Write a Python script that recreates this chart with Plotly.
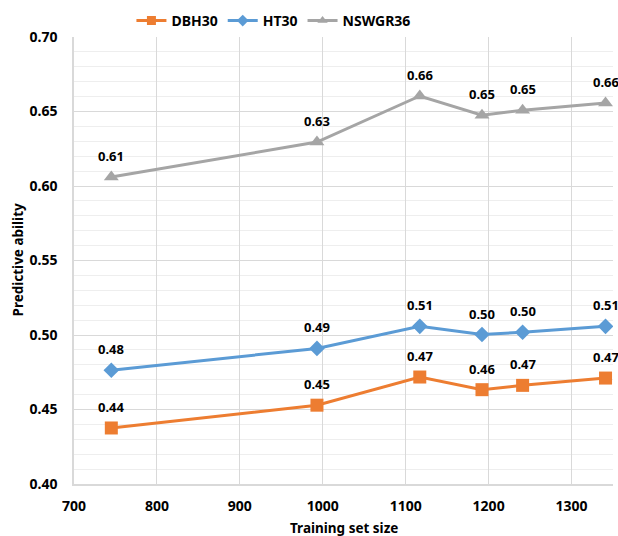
import plotly.graph_objects as go

training_size = [745, 993, 1117, 1192, 1241, 1341]
dbh30 = [0.4376, 0.4529, 0.4718, 0.4633, 0.4662, 0.4711]
ht30 = [0.4763, 0.4910, 0.5058, 0.5003, 0.5018, 0.5058]
nswgr36 = [0.6060, 0.6295, 0.6604, 0.6475, 0.6508, 0.6557]
dbh30_labels = ["0.44", "0.45", "0.47", "0.46", "0.47", "0.47"]
ht30_labels = ["0.48", "0.49", "0.51", "0.50", "0.50", "0.51"]
nswgr36_labels = ["0.61", "0.63", "0.66", "0.65", "0.65", "0.66"]

FONT = "Noto Sans"
series = [
    ("DBH30", dbh30, dbh30_labels, "#ED7D31", "square", 13, 9),
    ("HT30", ht30, ht30_labels, "#5B9BD5", "diamond", 12, 9),
    ("NSWGR36", nswgr36, nswgr36_labels, "#A5A5A5", "triangle-up", 13, 9),
]

fig = go.Figure()
annotations = []
for name, vals, labels, color, sym, size, lsize in series:
    fig.add_trace(go.Scatter(
        x=training_size, y=vals, mode="lines+markers", name=name,
        line=dict(color=color, width=3),
        marker=dict(symbol=sym, size=size, color=color),
        showlegend=False,
    ))
    fig.add_trace(go.Scatter(
        x=[None], y=[None], mode="lines+markers", name="<b>%s</b>" % name,
        line=dict(color=color, width=3),
        marker=dict(symbol=sym, size=lsize, color=color),
    ))
    for xv, yv, lab in zip(training_size, vals, labels):
        annotations.append(dict(
            x=xv, y=yv, text="<b>%s</b>" % lab, showarrow=False,
            yshift=21, font=dict(family=FONT, size=13, color="#000000"),
        ))

annotations.append(dict(
    x=0.5, y=0, xref="paper", yref="paper", text="<b>Training set size</b>",
    showarrow=False, yanchor="middle", yshift=-44,
    font=dict(family=FONT, size=13.5, color="#000000"),
))
annotations.append(dict(
    x=0, y=0.5, xref="paper", yref="paper", text="<b>Predictive ability</b>",
    showarrow=False, xanchor="center", xshift=-57, textangle=-90,
    font=dict(family=FONT, size=13.5, color="#000000"),
))

fig.update_layout(
    width=618, height=536,
    margin=dict(l=74, r=5, t=37, b=52),
    paper_bgcolor="white", plot_bgcolor="white",
    font=dict(family=FONT, color="#000000"),
    annotations=annotations,
    legend=dict(orientation="h", x=0.37, xanchor="center", y=1.0, yanchor="bottom",
                font=dict(family=FONT, size=14, color="#000000"),
                itemwidth=30, tracegroupgap=0),
    xaxis=dict(
        range=[700, 1350], dtick=100, tick0=700,
        showgrid=True, gridcolor="#D9D9D9", gridwidth=1,
        showline=True, linecolor="#D9D9D9", linewidth=1.5,
        zeroline=False, ticks="outside", ticklen=8, tickcolor="rgba(0,0,0,0)",
        tickfont=dict(family=FONT, size=14, color="#000000"),
        tickprefix="<b>", ticksuffix="</b>",
        automargin=False,
    ),
    yaxis=dict(
        range=[0.40, 0.70], dtick=0.05, tickformat=".2f",
        showgrid=True, gridcolor="#D9D9D9", gridwidth=1,
        minor=dict(dtick=0.01, showgrid=True, gridcolor="#EEEEEE", gridwidth=1, ticks=""),
        showline=True, linecolor="#D9D9D9", linewidth=1.5,
        zeroline=False, ticks="outside", ticklen=12, tickcolor="rgba(0,0,0,0)",
        tickfont=dict(family=FONT, size=14, color="#000000"),
        tickprefix="<b>", ticksuffix="</b>",
        automargin=False,
    ),
)

fig.write_html("out.html")
